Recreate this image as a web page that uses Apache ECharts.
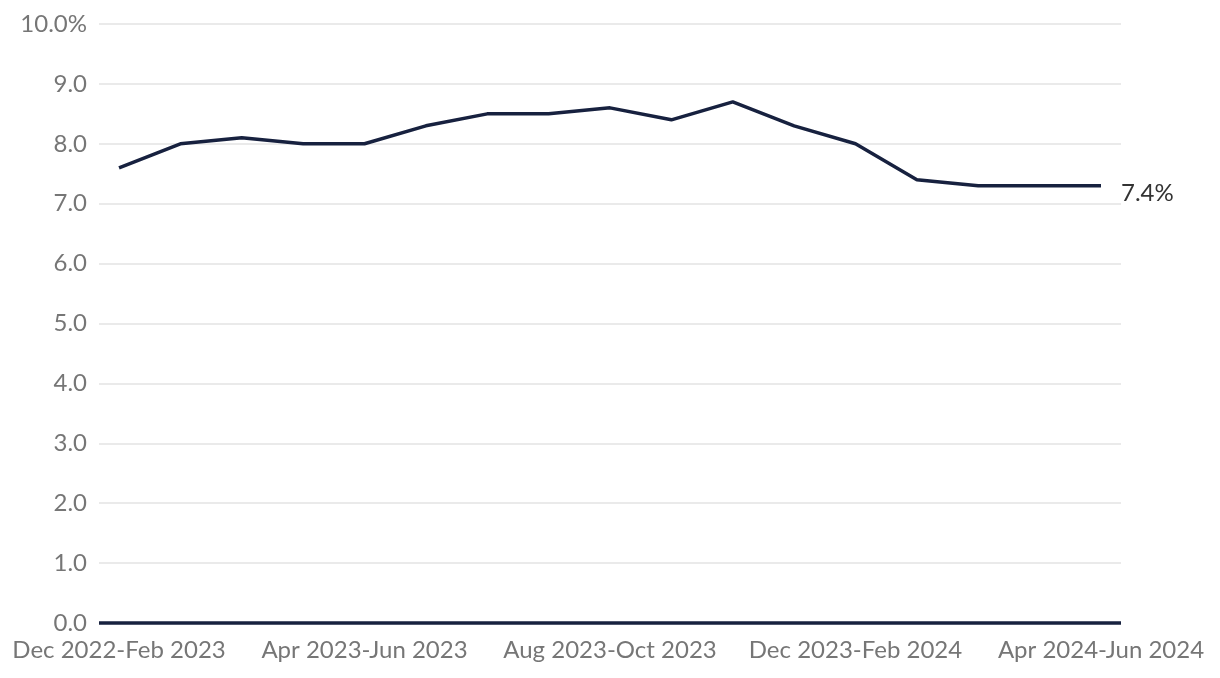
<!DOCTYPE html>
<html>
<head>
<meta charset="utf-8">
<script src="https://cdn.jsdelivr.net/npm/echarts@6/dist/echarts.min.js"></script>
<style>
html,body{margin:0;padding:0;background:#fff;}
#chart{width:1220px;height:678px;}
</style>
</head>
<body>
<div id="chart"></div>
<script>
const categories = [
  "Dec 2022-Feb 2023","Jan 2023-Mar 2023","Feb 2023-Apr 2023","Mar 2023-May 2023",
  "Apr 2023-Jun 2023","May 2023-Jul 2023","Jun 2023-Aug 2023","Jul 2023-Sep 2023",
  "Aug 2023-Oct 2023","Sep 2023-Nov 2023","Oct 2023-Dec 2023","Nov 2023-Jan 2024",
  "Dec 2023-Feb 2024","Jan 2024-Mar 2024","Feb 2024-Apr 2024","Mar 2024-May 2024",
  "Apr 2024-Jun 2024"
];
const values = [7.6, 8.0, 8.1, 8.0, 8.0, 8.3, 8.5, 8.5, 8.6, 8.4, 8.7, 8.3, 8.0, 7.4, 7.3, 7.3, 7.3];
const labelledTicks = [0, 4, 8, 12, 16];
const endAnnotation = "7.4%";

const chart = echarts.init(document.getElementById('chart'));
const font = 'Lato, "Noto Sans", sans-serif';
chart.setOption({
  animation: false,
  grid: { left: 99, right: 99, top: 24, bottom: 55, containLabel: false },
  xAxis: {
    type: 'value',
    min: -0.326,
    max: 16.326,
    axisLine: { show: false },
    axisTick: { show: false },
    splitLine: { show: false },
    axisLabel: {
      customValues: labelledTicks,
      formatter: v => categories[Math.round(v)] || '',
      color: '#767676',
      fontFamily: font,
      fontSize: 24,
      margin: 15
    }
  },
  yAxis: {
    type: 'value',
    min: 0, max: 10, interval: 1,
    axisLine: { show: false },
    axisTick: { show: false },
    splitLine: { lineStyle: { color: '#e3e3e3', width: 1.5 } },
    axisLabel: {
      formatter: v => v === 10 ? '10.0%' : v.toFixed(1),
      color: '#767676',
      fontFamily: font,
      fontSize: 24,
      margin: 12
    }
  },
  series: [{
    type: 'line',
    data: values.map((v, i) => [i, v]),
    symbol: 'none',
    lineStyle: { color: '#17213f', width: 3.5 },
    endLabel: {
      show: true,
      formatter: () => endAnnotation,
      color: '#333333',
      fontFamily: font,
      fontSize: 24,
      offset: [12, 8]
    },
    markLine: {
      silent: true,
      symbol: 'none',
      label: { show: false },
      lineStyle: { color: '#17213f', width: 3.5, type: 'solid' },
      data: [{ yAxis: 0 }]
    }
  }]
});
</script>
</body>
</html>
